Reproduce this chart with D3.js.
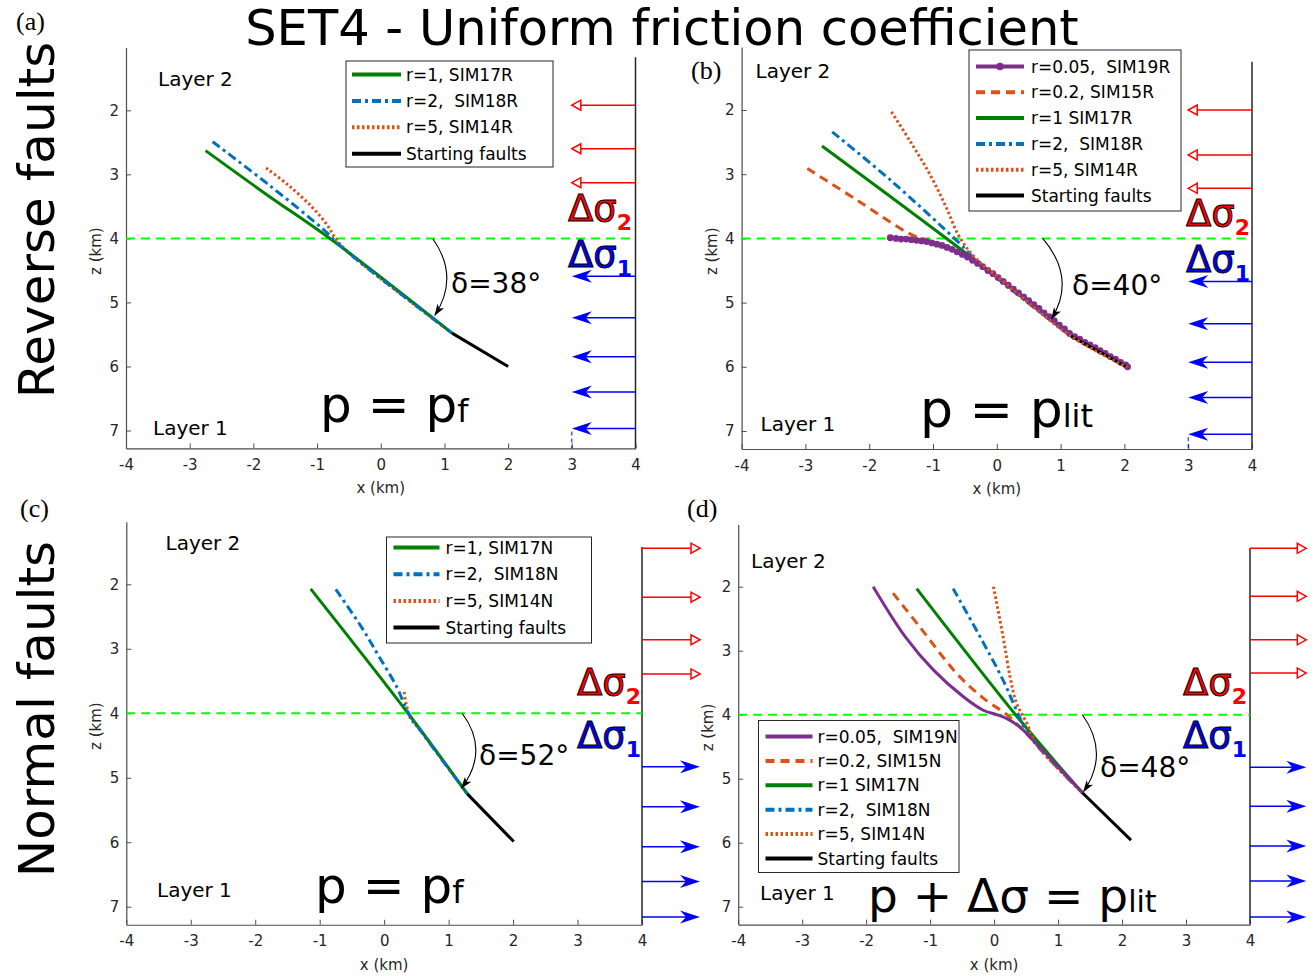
<!DOCTYPE html>
<html>
<head>
<meta charset="utf-8">
<script src="https://cdn.jsdelivr.net/npm/d3@7"></script>
<style>
  html, body { margin: 0; padding: 0; background: #fff; }
  svg text { white-space: pre; }
</style>
</head>
<body>
<svg id="fig" width="1314" height="976"></svg>
<script>
// ---- shared axes ticks ----
const xTicks = [-4, -3, -2, -1, 0, 1, 2, 3, 4];
const zTicks = [2, 3, 4, 5, 6, 7];
const layerInterfaceZ = 4;

// ---- (a) reverse faults, p = pf ----
const faultA_start = [[1.12, 5.48], [2.0, 6.0]];
const faultA_r1 = [[-2.75, 2.63], [-1.8, 3.31], [-0.76, 4.03], [1.12, 5.48]];
const faultA_r2 = [[-2.64, 2.49], [-1.75, 3.17], [-0.89, 3.87], [-0.55, 4.19], [1.12, 5.48]];
const faultA_r5 = [[-1.80, 2.90], [-1.45, 3.17], [-1.09, 3.50], [-0.85, 3.78], [-0.69, 4.03], [-0.45, 4.27], [1.12, 5.48]];
const sigma2A = [1.92, 2.60, 3.13];
const sigma1A = [4.59, 5.24, 5.85, 6.40, 6.97];
const legendA = ["r=1, SIM17R", "r=2,  SIM18R", "r=5, SIM14R", "Starting faults"];

// ---- (b) reverse faults, p = plit ----
const faultB_start = [[1.16, 5.52], [2.05, 6.01]];
const faultB_r005 = [
  [-1.67, 3.99], [-1.58, 4.00], [-1.50, 4.01], [-1.42, 4.01], [-1.34, 4.02], [-1.26, 4.03],
  [-1.18, 4.04], [-1.10, 4.05], [-1.02, 4.07], [-0.94, 4.09], [-0.86, 4.11], [-0.78, 4.14],
  [-0.70, 4.17], [-0.62, 4.21], [-0.54, 4.25], [-0.46, 4.29], [-0.38, 4.34], [-0.30, 4.39],
  [-0.22, 4.44], [-0.14, 4.50], [-0.06, 4.55], [0.02, 4.61], [0.10, 4.67], [0.18, 4.73],
  [0.26, 4.79], [0.34, 4.85], [0.42, 4.91], [0.50, 4.97], [0.58, 5.03], [0.66, 5.09],
  [0.74, 5.16], [0.82, 5.22], [0.90, 5.28], [0.98, 5.35], [1.06, 5.41], [1.14, 5.48],
  [1.22, 5.53], [1.30, 5.57], [1.38, 5.62], [1.46, 5.66], [1.54, 5.70], [1.62, 5.75],
  [1.70, 5.79], [1.78, 5.84], [1.86, 5.88], [1.94, 5.93], [2.02, 5.97], [2.05, 6.00]
];
const faultB_r02 = [[-2.97, 2.91], [-2.18, 3.41], [-1.36, 3.93], [-1.0, 4.06], [-0.70, 4.17], [-0.46, 4.29], [0.10, 4.67], [1.16, 5.52]];
const faultB_r1 = [[-2.74, 2.56], [-0.26, 4.40], [1.16, 5.52]];
const faultB_r2 = [[-2.58, 2.34], [-1.67, 3.09], [-0.58, 4.08], [-0.26, 4.40], [1.16, 5.52]];
const faultB_r5 = [[-1.65, 2.03], [-1.35, 2.50], [-1.05, 3.00], [-0.80, 3.50], [-0.60, 3.95], [-0.35, 4.29], [0.10, 4.67], [1.16, 5.52], [2.05, 6.01]];
const sigma2B = [2.00, 2.70, 3.22];
const sigma1B = [4.67, 5.33, 5.93, 6.48, 7.05];
const legendB = ["r=0.05,  SIM19R", "r=0.2, SIM15R", "r=1 SIM17R", "r=2,  SIM18R", "r=5, SIM14R", "Starting faults"];

// ---- (c) normal faults, p = pf ----
const faultC_start = [[1.29, 5.25], [2.01, 5.99]];
const faultC_r1 = [[-1.14, 2.07], [0.37, 4.0], [1.29, 5.25]];
const faultC_r2 = [[-0.75, 2.08], [-0.36, 2.65], [-0.08, 3.12], [0.20, 3.60], [0.36, 3.97], [0.50, 4.18], [1.29, 5.25]];
const faultC_r5 = [[0.31, 3.67], [0.34, 3.85], [0.41, 4.08], [0.55, 4.25], [1.29, 5.25]];
const sigma2C = [1.44, 2.20, 2.86, 3.39];
const sigma1C = [4.83, 5.45, 6.07, 6.61, 7.16];
const legendC = ["r=1, SIM17N", "r=2,  SIM18N", "r=5, SIM14N", "Starting faults"];

// ---- (d) normal faults, p + Δσ = plit ----
const faultD_start = [[1.38, 5.22], [2.14, 5.96]];
const faultD_r005 = [[-1.89, 2.00], [-1.39, 2.78], [-0.95, 3.30], [-0.48, 3.72], [-0.17, 3.93], [0.04, 4.00], [0.20, 4.06], [0.40, 4.19], [0.61, 4.40], [1.38, 5.22]];
const faultD_r02 = [[-1.58, 2.10], [-1.16, 2.63], [-0.59, 3.35], [-0.17, 3.74], [0.20, 4.00], [0.40, 4.19], [1.38, 5.22]];
const faultD_r1 = [[-1.21, 2.03], [0.40, 4.08], [1.38, 5.22]];
const faultD_r2 = [[-0.64, 2.03], [-0.22, 2.78], [0.14, 3.46], [0.35, 3.93], [0.55, 4.33], [1.38, 5.22]];
const faultD_r5 = [[-0.01, 2.00], [0.14, 2.78], [0.25, 3.41], [0.35, 3.82], [0.51, 4.13], [0.66, 4.46], [1.38, 5.22]];
const sigma2D = [1.40, 2.15, 2.83, 3.35];
const sigma1D = [4.82, 5.43, 6.05, 6.60, 7.16];
const legendD = ["r=0.05,  SIM19N", "r=0.2, SIM15N", "r=1 SIM17N", "r=2,  SIM18N", "r=5, SIM14N", "Starting faults"];

// ---- line styles per series ----
const styles = {
  r005:  { stroke: "#7E2F8E", width: 3, dash: null, marker: true },
  r02:   { stroke: "#D95319", width: 3, dash: "9,6" },
  r1:    { stroke: "#008000", width: 3, dash: null },
  r2:    { stroke: "#0072BD", width: 3, dash: "9,4,3,4" },
  r5:    { stroke: "#D95319", width: 3, dash: "2.5,2.5" },
  start: { stroke: "#000000", width: 3, dash: null }
};

const FONT = "'DejaVu Sans', Verdana, sans-serif";
const SERIF = "'Liberation Serif', 'DejaVu Serif', serif";
const AXC = "#262626";

const panels = [
  {
    label: "(a)", labelPos: [16, 30],
    xRange: [126, 635.5], z2: 110.3, z7: 430.5,
    zTop: 1.02, zBottom: 7.28, rightLineTop: 1.17,
    series: [["r5", faultA_r5], ["r1", faultA_r1], ["r2", faultA_r2], ["start", faultA_start]],
    legend: { x: 346, y: 61, w: 207, h: 106, first: 13.5, step: 26.4, line: [6, 55], text: 60,
              keys: ["r1", "r2", "r5", "start"], labels: legendA },
    sig2: sigma2A, sig1: sigma1A, tipX: 3, tail: true,
    sigLabel: { x: 568, y2: 221, y1: 267 },
    layer2: [158, 86], layer1: [153, 435],
    formula: { x: 320, y: 422, parts: [["p = p", 50], ["f", 32]] },
    delta: { text: "δ=38°", x: 451, y: 293, arc: [[0.82, 4.01], [1.24, 4.6], [0.85, 5.2]] }
  },
  {
    label: "(b)", labelPos: [691, 79],
    xRange: [741.6, 1252], z2: 110, z7: 431,
    zTop: 1.02, zBottom: 7.28, rightLineTop: 1.25,
    series: [["r02", faultB_r02], ["r1", faultB_r1], ["r2", faultB_r2], ["r005", faultB_r005], ["start", faultB_start], ["r5", faultB_r5]],
    legend: { x: 969, y: 50, w: 212, h: 161, first: 16.5, step: 25.8, line: [7, 55], text: 62,
              keys: ["r005", "r02", "r1", "r2", "r5", "start"], labels: legendB },
    sig2: sigma2B, sig1: sigma1B, tipX: 3, tail: true,
    sigLabel: { x: 1186, y2: 226, y1: 272 },
    layer2: [755.5, 78], layer1: [760.5, 431],
    formula: { x: 920, y: 427, parts: [["p = p", 52], ["lit", 32]] },
    delta: { text: "δ=40°", x: 1072, y: 295, arc: [[0.72, 4.0], [1.25, 4.62], [0.86, 5.25]] }
  },
  {
    label: "(c)", labelPos: [20, 517],
    xRange: [126.3, 642], z2: 584.3, z7: 906.7,
    zTop: 1.03, zBottom: 7.28, rightLineTop: 1.42,
    series: [["r5", faultC_r5], ["r1", faultC_r1], ["r2", faultC_r2], ["start", faultC_start]],
    legend: { x: 386.5, y: 537, w: 205, h: 106, first: 10.5, step: 26.7, line: [7, 53], text: 59,
              keys: ["r1", "r2", "r5", "start"], labels: legendC },
    sig2: sigma2C, sig1: sigma1C, tipX: 4.9, tail: false,
    sigLabel: { x: 577, y2: 695, y1: 748 },
    layer2: [165.5, 550], layer1: [157, 897],
    formula: { x: 315, y: 903, parts: [["p = p", 50], ["f", 32]] },
    delta: { text: "δ=52°", x: 479, y: 765, arc: [[1.21, 4.0], [1.64, 4.58], [1.20, 5.16]] }
  },
  {
    label: "(d)", labelPos: [687, 517],
    xRange: [738.2, 1250], z2: 586.7, z7: 906.7,
    zTop: 1.03, zBottom: 7.28, rightLineTop: 1.40,
    series: [["r02", faultD_r02], ["r1", faultD_r1], ["r2", faultD_r2], ["r5", faultD_r5], ["start", faultD_start], ["r005", faultD_r005]],
    legend: { x: 758.5, y: 720.5, w: 200.5, h: 152, first: 16, step: 24.4, line: [7, 54], text: 59,
              keys: ["r005", "r02", "r1", "r2", "r5", "start"], labels: legendD },
    sig2: sigma2D, sig1: sigma1D, tipX: 4.88, tail: false,
    sigLabel: { x: 1183, y2: 695, y1: 748 },
    layer2: [751, 568], layer1: [760, 900],
    formula: { x: 868, y: 912, parts: [["p + Δσ = p", 47], ["lit", 30]] },
    delta: { text: "δ=48°", x: 1100, y: 777, arc: [[1.38, 4.0], [1.81, 4.6], [1.40, 5.2]] }
  }
];

const svg = d3.select("#fig");

// arrowhead for the dip-angle arcs
svg.append("defs").append("marker")
  .attr("id", "arcHead").attr("viewBox", "0 0 12 8")
  .attr("refX", 11).attr("refY", 4)
  .attr("markerWidth", 12).attr("markerHeight", 8)
  .attr("markerUnits", "userSpaceOnUse").attr("orient", "auto")
  .append("path").attr("d", "M0,0 L12,4 L0,8 L3,4 Z").attr("fill", "#000");

// title and row labels
svg.append("text").attr("x", 662).attr("y", 45).attr("text-anchor", "middle")
  .attr("font-family", FONT).attr("font-size", 49.5).attr("fill", "#000")
  .text("SET4 - Uniform friction coefficient");

[["Reverse faults", 220], ["Normal faults", 709]].forEach(([t, cy]) => {
  svg.append("text").attr("transform", `translate(54,${cy}) rotate(-90)`)
    .attr("text-anchor", "middle").attr("font-family", FONT).attr("font-size", 50)
    .attr("fill", "#000").text(t);
});

function drawPanel(p) {
  const x = d3.scaleLinear().domain([-4, 4]).range(p.xRange);
  const z = d3.scaleLinear().domain([2, 7]).range([p.z2, p.z7]);
  const zAxisScale = z.copy().domain([p.zTop, p.zBottom]).range([z(p.zTop), z(p.zBottom)]);
  const g = svg.append("g");

  // panel letter
  g.append("text").attr("x", p.labelPos[0]).attr("y", p.labelPos[1])
    .attr("font-family", SERIF).attr("font-size", 26).attr("fill", "#000").text(p.label);

  // axes
  const xAxis = d3.axisBottom(x).tickValues(xTicks).tickFormat(d => String(d))
    .tickSizeInner(-5).tickSizeOuter(0).tickPadding(11);
  const zAxis = d3.axisLeft(zAxisScale).tickValues(zTicks).tickFormat(d => String(d))
    .tickSizeInner(-5).tickSizeOuter(0).tickPadding(7);
  const gx = g.append("g").attr("transform", `translate(0,${z(p.zBottom)})`).call(xAxis);
  const gz = g.append("g").attr("transform", `translate(${x(-4)},0)`).call(zAxis);
  [gx, gz].forEach(a => {
    a.selectAll("path").attr("stroke", "#4d4d4d").attr("stroke-width", 1.2);
    a.selectAll("line").attr("stroke", "#4d4d4d");
    a.selectAll("text").attr("font-family", FONT).attr("font-size", 15).attr("fill", AXC);
  });
  g.append("text").attr("x", x(0)).attr("y", z(p.zBottom) + 45).attr("text-anchor", "middle")
    .attr("font-family", FONT).attr("font-size", 15).attr("fill", AXC).text("x (km)");
  g.append("text").attr("transform", `translate(${x(-4) - 25},${z(4.2)}) rotate(-90)`)
    .attr("text-anchor", "middle").attr("font-family", FONT).attr("font-size", 15)
    .attr("fill", AXC).text("z (km)");

  // boundary line on the loaded side
  g.append("line").attr("x1", x(4)).attr("x2", x(4))
    .attr("y1", z(p.rightLineTop)).attr("y2", z(p.zBottom))
    .attr("stroke", "#262626").attr("stroke-width", 1.5);

  // layer interface
  g.append("line").attr("x1", x(-4)).attr("x2", x(4))
    .attr("y1", z(layerInterfaceZ)).attr("y2", z(layerInterfaceZ))
    .attr("stroke", "#00ff00").attr("stroke-width", 2).attr("stroke-dasharray", "9,6");

  // stress arrows
  const dir = Math.sign(x(p.tipX) - x(4));
  p.sig2.forEach(v => {
    const tx = x(p.tipX), ty = z(v), bx = tx - dir * 9;
    g.append("line").attr("x1", x(4)).attr("x2", bx).attr("y1", ty).attr("y2", ty)
      .attr("stroke", "#ff0000").attr("stroke-width", 1.5);
    g.append("path").attr("d", `M${tx},${ty} L${bx},${ty - 5} L${bx},${ty + 5} Z`)
      .attr("fill", "#fff").attr("stroke", "#ff0000").attr("stroke-width", 1.5);
  });
  p.sig1.forEach(v => {
    const tx = x(p.tipX), ty = z(v);
    g.append("line").attr("x1", x(4)).attr("x2", tx - dir * 13).attr("y1", ty).attr("y2", ty)
      .attr("stroke", "#0000ff").attr("stroke-width", 1.5);
    g.append("path")
      .attr("d", `M${tx},${ty} L${tx - dir * 20},${ty - 6.5} L${tx - dir * 14},${ty} L${tx - dir * 20},${ty + 6.5} Z`)
      .attr("fill", "#0000ff");
  });
  if (p.tail) {
    const last = p.sig1[p.sig1.length - 1];
    g.append("line").attr("x1", x(p.tipX)).attr("x2", x(p.tipX))
      .attr("y1", z(last) + 3).attr("y2", z(p.zBottom))
      .attr("stroke", "#0000ff").attr("stroke-width", 1).attr("stroke-dasharray", "4,3");
  }

  // Δσ labels
  function sigmaLabel(y, sub, color) {
    const t = g.append("text").attr("x", p.sigLabel.x).attr("y", y)
      .attr("font-family", FONT).attr("fill", color);
    t.append("tspan").attr("font-size", 37).attr("stroke", "#000").attr("stroke-width", 1)
      .text("Δσ");
    t.append("tspan").attr("font-size", 22).attr("font-weight", "bold").attr("dy", 9).text(sub);
  }
  sigmaLabel(p.sigLabel.y2, "2", "#ff0000");
  sigmaLabel(p.sigLabel.y1, "1", "#0000ff");

  // fault traces
  const line = d3.line().x(d => x(d[0])).y(d => z(d[1])).curve(d3.curveCatmullRom.alpha(0.5));
  p.series.forEach(([key, data]) => {
    const s = styles[key];
    g.append("path").attr("d", line(data)).attr("fill", "none")
      .attr("stroke", s.stroke).attr("stroke-width", s.width)
      .attr("stroke-dasharray", s.dash);
    if (s.marker && p.label === "(b)") {
      g.selectAll(null).data(data).enter().append("circle")
        .attr("cx", d => x(d[0])).attr("cy", d => z(d[1])).attr("r", 3.4)
        .attr("fill", s.stroke);
    }
  });

  // dip-angle arc
  const a = p.delta.arc;
  const path = d3.path();
  path.moveTo(x(a[0][0]), z(a[0][1]));
  path.quadraticCurveTo(x(a[1][0]), z(a[1][1]), x(a[2][0]), z(a[2][1]));
  g.append("path").attr("d", path.toString()).attr("fill", "none")
    .attr("stroke", "#000").attr("stroke-width", 1.1).attr("marker-end", "url(#arcHead)");
  g.append("text").attr("x", p.delta.x).attr("y", p.delta.y)
    .attr("font-family", FONT).attr("font-size", 28).attr("fill", "#000").text(p.delta.text);

  // layer labels
  g.append("text").attr("x", p.layer2[0]).attr("y", p.layer2[1])
    .attr("font-family", FONT).attr("font-size", 20).attr("fill", "#000").text("Layer 2");
  g.append("text").attr("x", p.layer1[0]).attr("y", p.layer1[1])
    .attr("font-family", FONT).attr("font-size", 20).attr("fill", "#000").text("Layer 1");

  // pore-pressure condition
  const f = g.append("text").attr("x", p.formula.x).attr("y", p.formula.y)
    .attr("font-family", FONT).attr("fill", "#000");
  p.formula.parts.forEach(([t, fs]) => f.append("tspan").attr("font-size", fs).text(t));

  // legend
  const L = p.legend;
  const lg = g.append("g").attr("transform", `translate(${L.x},${L.y})`);
  lg.append("rect").attr("width", L.w).attr("height", L.h)
    .attr("fill", "#fff").attr("stroke", "#262626").attr("stroke-width", 1);
  L.keys.forEach((k, i) => {
    const s = styles[k], y = L.first + i * L.step;
    lg.append("line").attr("x1", L.line[0]).attr("x2", L.line[1]).attr("y1", y).attr("y2", y)
      .attr("stroke", s.stroke).attr("stroke-width", 4).attr("stroke-dasharray", s.dash);
    if (s.marker && p.label === "(b)") {
      lg.append("circle").attr("cx", (L.line[0] + L.line[1]) / 2).attr("cy", y).attr("r", 3.8)
        .attr("fill", s.stroke);
    }
    lg.append("text").attr("x", L.text).attr("y", y + 6)
      .attr("font-family", FONT).attr("font-size", 17).attr("fill", "#000").text(L.labels[i]);
  });
}

panels.forEach(drawPanel);
</script>
</body>
</html>
